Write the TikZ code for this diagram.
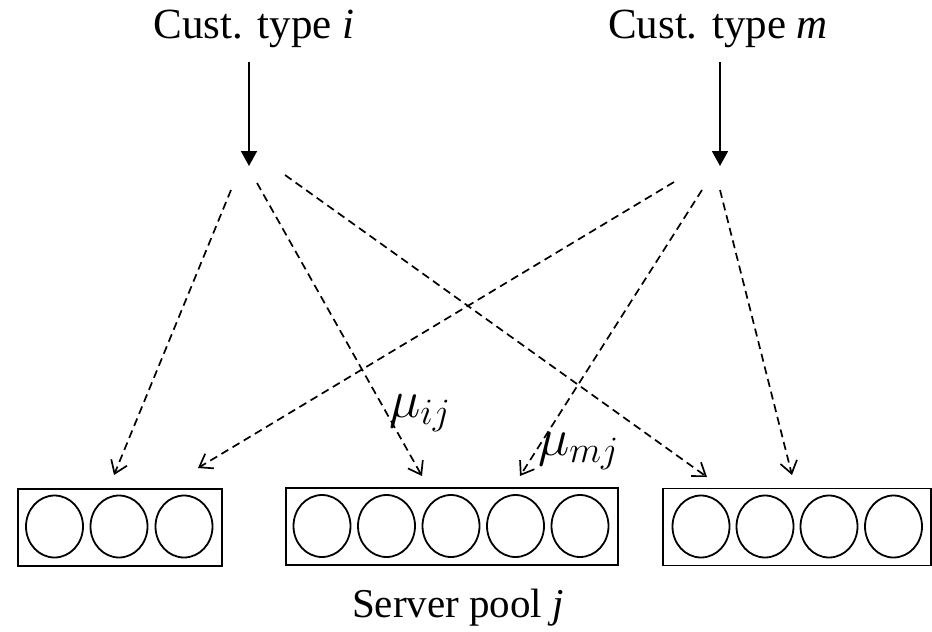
\RequirePackage{fix-cm}
\documentclass[tikz,border=0pt]{standalone}
\usepackage{fontspec}
\setmainfont{Liberation Serif}
\usetikzlibrary{arrows.meta,shapes.geometric}

\tikzset{
  txt/.style={anchor=base, inner sep=0pt, font=\fontsize{43}{51}\selectfont},
  pooltxt/.style={anchor=base, inner sep=0pt, font=\fontsize{41}{49}\selectfont},
  ratelabel/.style={anchor=base west, inner sep=0pt, font=\fontsize{53}{63}\selectfont},
  feed/.style={line width=1.8pt, -{Triangle[length=15pt,width=16pt]}},
  route/.style={line width=1.7pt, dash pattern=on 8pt off 5pt,
    -{Straight Barb[length=12pt,width=17pt,line width=1.7pt]}},
  pool/.style={draw, line width=1.8pt, minimum height=77pt, inner sep=0pt},
  server/.style={draw, ellipse, line width=1.8pt, minimum width=57pt,
    minimum height=62pt, inner sep=0pt},
}

\begin{document}
\begin{tikzpicture}[x=1pt, y=-1pt]
  \useasboundingbox (0,0) rectangle (932,632);

  % customer classes
  \node[txt] (ti) at (254,38) {Cust. type \textit{i}};
  \node[txt] (tm) at (718,38) {Cust. type \textit{m}};
  \coordinate (ti-in) at (249,62);
  \coordinate (ti-out) at (249,166);
  \coordinate (tm-in) at (720,62);
  \coordinate (tm-out) at (720,166);
  \draw[feed] (ti-in) -- (ti-out);
  \draw[feed] (tm-in) -- (tm-out);

  % server pools
  \node[pool, minimum width=204pt] (p1) at (120,527.5) {};
  \node[pool, minimum width=332pt] (p2) at (452,526.5) {};
  \node[pool, minimum width=268pt] (p3) at (797,527) {};
  \foreach \k/\x in {1/54.5, 2/119, 3/184}
    \node[server] (p1c\k) at (\x,526.5) {};
  \foreach \k/\x in {1/322, 2/386.5, 3/451, 4/515.5, 5/580}
    \node[server] (p2c\k) at (\x,526) {};
  \foreach \k/\x in {1/701, 2/765, 3/829, 4/893.5}
    \node[server] (p3c\k) at (\x,526.5) {};

  % routing from type i
  \coordinate (i1) at (231,190);  \coordinate (e1) at (114,475);
  \coordinate (i2) at (257,183);  \coordinate (e2) at (422,476);
  \coordinate (i3) at (285,175);  \coordinate (e3) at (707,477);
  % routing from type m
  \coordinate (m1) at (674,182);  \coordinate (f1) at (198,468);
  \coordinate (m2) at (702,190);  \coordinate (f2) at (520,476);
  \coordinate (m3) at (720,190);  \coordinate (f3) at (792,475);

  \draw[route] (i1) -- (e1);
  \draw[route] (i2) -- (e2);
  \draw[route] (i3) -- (e3);
  \draw[route] (m1) -- (f1);
  \draw[route] (m2) -- (f2);
  \draw[route] (m3) -- (f3);

  % service rates
  \node[ratelabel] (muij) at (389,417) {$\mu_{ij}$};
  \node[ratelabel] (mumj) at (538,455) {$\mu_{mj}$};

  \node[pooltxt] (pool) at (458,617) {Server pool \textit{j}};
\end{tikzpicture}
\end{document}
